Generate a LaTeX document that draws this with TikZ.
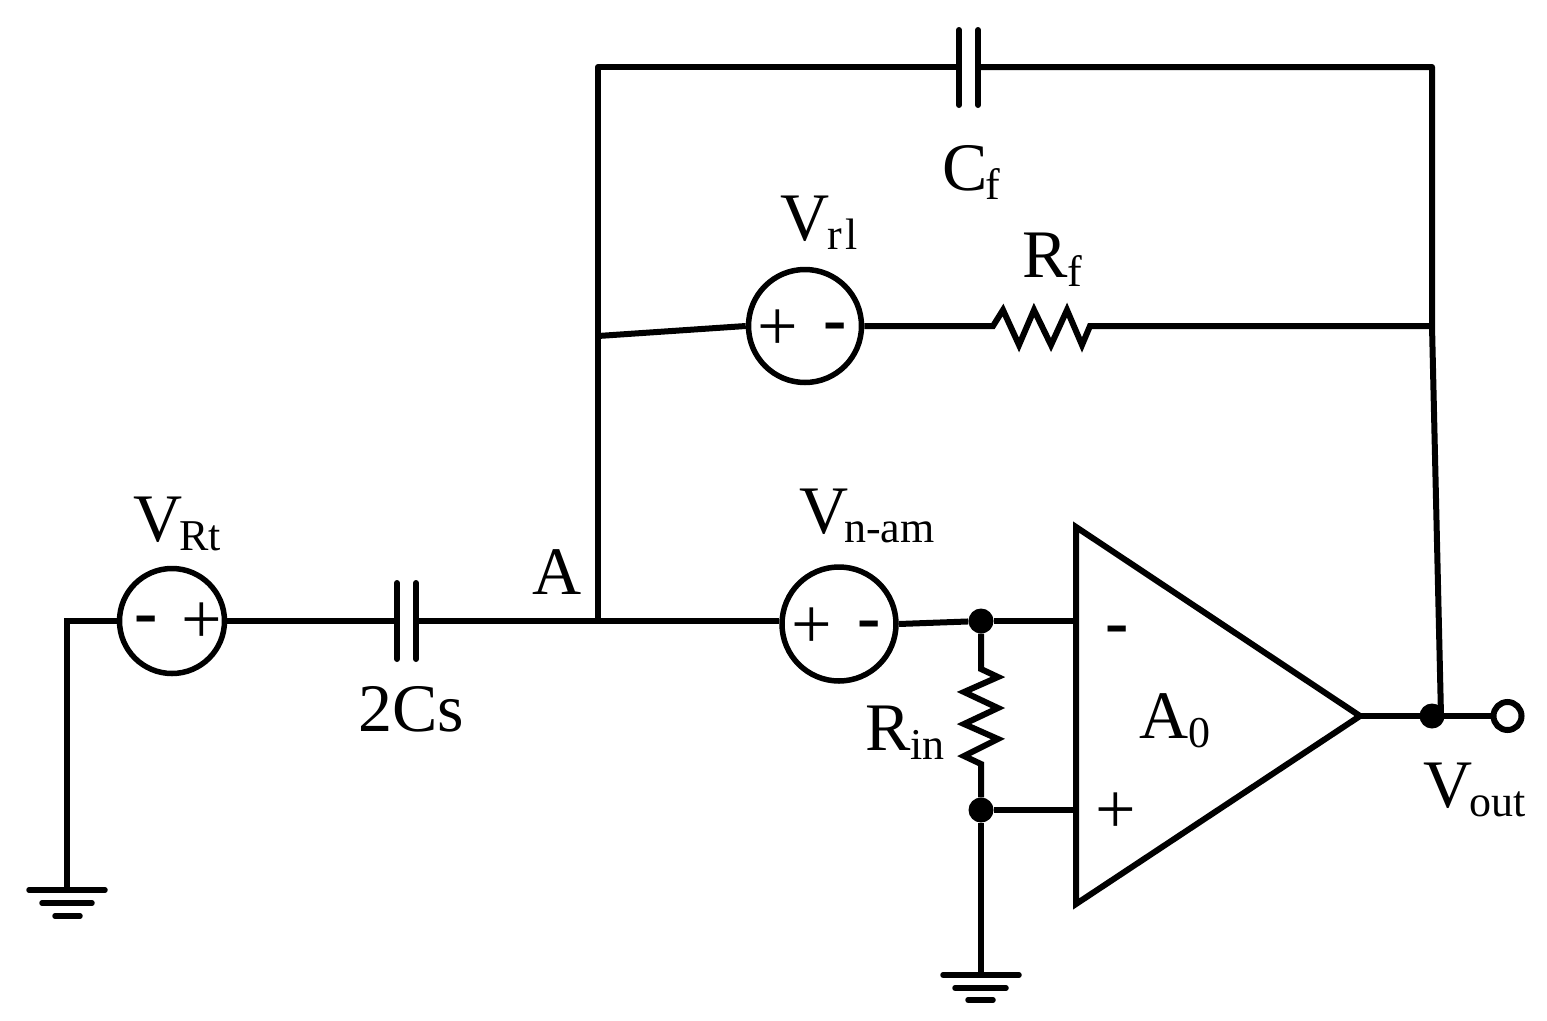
\documentclass[tikz,border=0pt]{standalone}
\usepackage{fontspec}
\setmainfont{Liberation Serif}
\newcommand{\lbl}[2]{{\fontsize{68}{68}\selectfont #1\ifx&#2&\else{\fontsize{44}{44}\selectfont\raisebox{-9pt}{#2}}\fi}}
\begin{document}
\begin{tikzpicture}[x=1pt,y=-1pt,
  wire/.style={line width=6pt,black,line join=round},
  plate/.style={line width=6pt,black,line cap=round},
  gbar/.style={line width=5.5pt,black,line cap=round},
  src/.style={circle,draw=black,line width=5.5pt,inner sep=0pt},
  dotn/.style={circle,fill=black,minimum size=25pt,inner sep=0pt},
  term/.style={circle,draw=black,line width=6pt,fill=white,minimum size=28pt,inner sep=0pt},
  txt/.style={inner sep=0pt,anchor=base west},
  plus/.style={inner sep=0pt,anchor=center,font=\fontsize{72}{72}\selectfont},
  minus/.style={inner sep=0pt,anchor=base,font=\fontsize{70}{70}\selectfont\bfseries}]
\useasboundingbox (0,0) rectangle (1547,1020);
% junction coordinates
\coordinate (tl) at (598,67);
\coordinate (tr) at (1432,67);
\coordinate (midl) at (598,336);
\coordinate (midr) at (1432,326);
\coordinate (fb) at (1441,716);
\coordinate (A) at (598,621);
\coordinate (gl) at (67,621);
\coordinate (gl1) at (67,890);
\coordinate (gr1) at (981,975);
% nodes
\node[src,minimum size=105pt] (vrt) at (172,621) {};
\node[src,minimum size=113pt] (vr1) at (805,326) {};
\node[src,minimum size=114pt] (vna) at (839,624) {};
\node[dotn] (n1) at (981,621) {};
\node[dotn] (n2) at (981,810) {};
\node[dotn] (n3) at (1432,716) {};
\node[term] (out) at (1507.5,716) {};
% op amp
\coordinate (oa1) at (1076,527);
\coordinate (oa2) at (1076,904);
\coordinate (oa3) at (1360,716);
\draw[line width=6pt,black,line join=miter] (oa1) -- (oa3) -- (oa2) -- cycle;
% capacitor Cf
\coordinate (cf1) at (959,67);
\coordinate (cf2) at (978,67);
\draw[plate] (959,30) -- (cf1) -- (959,105);
\draw[plate] (978,30) -- (cf2) -- (978,105);
% capacitor 2Cs
\coordinate (cs1) at (397,621);
\coordinate (cs2) at (416,621);
\draw[plate] (397,583) -- (cs1) -- (397,659);
\draw[plate] (416,583) -- (cs2) -- (416,659);
\draw[wire] (vrt) -- (cs1);
\draw[wire] (cs2) -- (A);
% wires
\draw[wire] (A) -- (tl) -- (cf1);
\draw[wire] (cf2) -- (tr) -- (midr) -- (fb);
\draw[wire] (midl) -- (vr1.west);
\draw[wire] (A) -- (vna.west |- A);
\draw[wire] (vna.east) -- (n1);
\draw[wire] (n1) -- (1076,621);
\draw[wire] (n2) -- (1076,810);
\draw[wire] (oa3) -- (out);
\draw[wire,line join=miter] (vrt) -- (gl) -- (gl1);
% Rf
\coordinate (rf0) at (993,326);
\coordinate (rf1) at (1090,326);
\draw[wire,line join=miter] (vr1.east) -- (rf0) -- (1003,310) -- (1019,345) -- (1034,310) -- (1051,345) -- (1067,310) -- (1082,345) -- (rf1) -- (midr);
% Rin
\draw[wire,line join=miter] (n1) -- (981,669) -- (998,677) -- (964,692) -- (998,708) -- (964,724) -- (998,739) -- (964,756) -- (981,764) -- (n2);
% grounds
\draw[wire] (n2) -- (gr1);
\draw[gbar] (29,890) -- (105,890);
\draw[gbar] (42,903) -- (92,903);
\draw[gbar] (55,916) -- (80,916);
\draw[gbar] (943,975) -- (1019,975);
\draw[gbar] (955,988) -- (1006,988);
\draw[gbar] (968,1000) -- (993,1000);
% source signs
\node[minus] (m1) at (146,635) {-};
\node[plus] (p1) at (202,623) {+};
\node[plus] (p2) at (777.5,330) {+};
\node[minus] (m2) at (835,342) {-};
\node[plus] (p3) at (812,628) {+};
\node[minus] (m3) at (869,640) {-};
\node[minus] (m4) at (1117,645) {-};
\node[plus] (p4) at (1116,813) {+};
% labels
\node[txt] (l1) at (133,541) {\lbl{V\kern-3pt}{Rt}};
\node[txt] (l2) at (358,731) {\lbl{2Cs}{}};
\node[txt] (l3) at (532,594) {\lbl{A}{}};
\node[txt] (l4) at (780,240) {\lbl{V\kern-2pt}{r\kern4pt l}};
\node[txt] (l5) at (942,190) {\lbl{C\kern-2pt}{f}};
\node[txt] (l6) at (1022,277) {\lbl{R}{f}};
\node[txt] (l7) at (799,533) {\lbl{V\kern-4pt}{n-am}};
\node[txt] (l8) at (865,750) {\lbl{R}{in}};
\node[txt] (l9) at (1139,738) {\lbl{A}{0}};
\node[txt] (l10) at (1423,807) {\lbl{V\kern-3pt}{out}};
\end{tikzpicture}
\end{document}
